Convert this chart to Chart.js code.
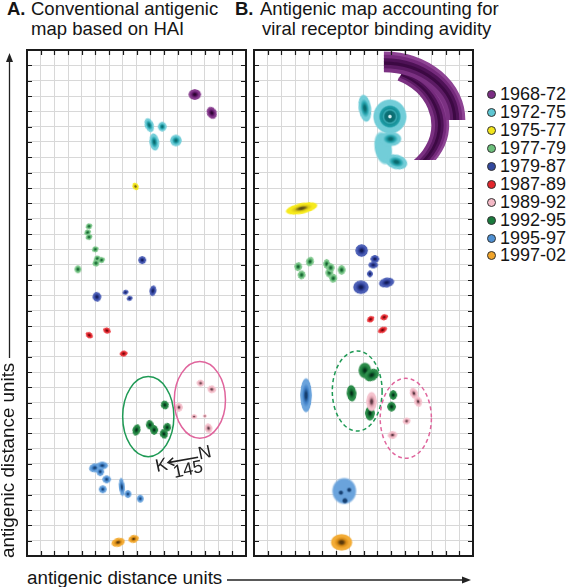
<!DOCTYPE html>
<html>
<head>
<meta charset="utf-8">
<script src="https://cdn.jsdelivr.net/npm/chart.js@4.4.1/dist/chart.umd.min.js"></script>
<style>
  body { margin: 0; background: #fff; font-family: 'Liberation Sans', Arial, sans-serif; color: #151515; }
  #page { position: relative; width: 566px; height: 587px; overflow: hidden; }
  .abs { position: absolute; white-space: nowrap; }
  .ttl { font-size: 18.5px; line-height: 20px; }
  .ax { font-size: 18.8px; line-height: 20px; }
  .lg { display: flex; align-items: center; height: 17.9px; font-size: 18px; }
  .lg i { display: inline-block; width: 7px; height: 7px; border-radius: 50%; border: 1px solid #333; margin-right: 4px; }
</style>
</head>
<body>
<div id="page">
  <div class="abs ttl" style="left:7px;top:-1px;font-weight:bold">A.</div>
  <div class="abs ttl" style="left:31px;top:-1px">Conventional antigenic<br>map based on HAI</div>
  <div class="abs ttl" style="left:235px;top:-1px;font-weight:bold">B.</div>
  <div class="abs ttl" style="left:260px;top:-1px">Antigenic map accounting for<br><span style="margin-left:2px">viral receptor binding avidity</span></div>

  <canvas id="chartA" class="abs" width="239" height="526" style="left:17px;top:40px"></canvas>
  <canvas id="chartB" class="abs" width="239" height="526" style="left:244px;top:40px"></canvas>

  <div id="legend" class="abs" style="left:487px;top:86px"></div>

  <div class="abs ax" style="left:27px;top:567.5px">antigenic distance units</div>
  <div class="abs ax" style="left:-2px;top:558px;transform-origin:0 0;transform:rotate(-90deg)">antigenic distance units</div>
  <svg class="abs" style="left:0;top:0" width="566" height="587">
    <line x1="227" y1="580" x2="466" y2="580" stroke="#222" stroke-width="1.3"/>
    <polygon points="471,580 462,576.5 462,583.5" fill="#222"/>
    <line x1="9.5" y1="358" x2="9.5" y2="58" stroke="#222" stroke-width="1.3"/>
    <polygon points="9.5,53 6,62 13,62" fill="#222"/>
  </svg>
</div>

<script>
// periods and their colours
var periods = ['1968-72', '1972-75', '1975-77', '1977-79', '1979-87', '1987-89', '1989-92', '1992-95', '1995-97', '1997-02'];
var legendFill = ['#7b2d83', '#5ec6d2', '#f2e51c', '#6cbf7b', '#33489e', '#e3262d', '#f4b9c6', '#1a7a3c', '#4f90d2', '#f0a42a'];
var tone = [
  ['#873c8e', '#62196b', '#2c0531'],
  ['#72cdd8', '#25a4ae', '#0a6a6f'],
  ['#f6ea1c', '#d9c615', '#5b4e17'],
  ['#80c88d', '#3f9c58', '#155a2d'],
  ['#4c5fb6', '#2e3e98', '#121c56'],
  ['#ec3c42', '#cc151d', '#5e050a'],
  ['#f5c3ce', '#dc9eac', '#5c3943'],
  ['#2c8c4a', '#147034', '#05301a'],
  ['#6aa3dc', '#3f7fc6', '#163f70'],
  ['#f3ac36', '#d98b15', '#5a3a0c']
];

// map extent (antigenic units)
var xMax = 16, yMax = 33;

// panel A: strain positions [x, y]
var A_6872 = [[12.26, 30.1], [13.5, 28.9]];
var A_7275 = [[8.93, 28.1], [9.3, 27.0], [9.88, 28.0], [10.88, 27.1]];
var A_7577 = [[7.93, 24.1]];
var A_7779 = [[4.53, 21.5], [4.43, 21.1], [4.53, 20.8], [4.99, 20.0], [5.13, 19.4], [5.45, 19.3], [5.04, 19.1], [3.72, 18.7]];
var A_7987 = [[8.42, 19.3], [5.11, 16.9], [7.2, 17.2], [7.5, 16.8], [9.2, 17.3]];
var A_8789 = [[4.55, 14.4], [5.84, 14.7], [7.06, 13.2]];
var A_8992 = [[12.68, 11.27], [13.5, 10.87], [11.1, 9.7], [12.21, 9.09], [12.99, 9.13], [13.26, 8.33]];
var A_9295 = [[10.07, 9.85], [8.0, 8.22], [8.98, 8.55], [9.29, 8.22], [10.0, 7.96], [10.24, 8.39]];
var A_9597 = [[4.95, 5.75], [5.5, 5.9], [5.35, 5.5], [5.82, 5.0], [5.53, 4.35], [6.93, 4.5], [7.37, 4.04], [8.27, 3.74]];
var A_9702 = [[6.66, 0.89], [7.79, 1.11]];

// panel A: uncertainty spread [width, height (units), tilt deg, kind]
var A_6872_s = [[0.95, 0.72, 0, 0], [0.75, 0.85, -25, 0]];
var A_7275_s = [[0.65, 1.0, -20, 0], [0.75, 1.15, -8, 0], [0.65, 0.65, 0, 0], [0.9, 0.8, 0, 0]];
var A_7577_s = [[0.42, 0.5, -30, 0]];
var A_7779_s = [[0.5, 0.42, -25, 0], [0.5, 0.42, -25, 0], [0.5, 0.42, -25, 0], [0.5, 0.42, -25, 0], [0.5, 0.42, -25, 0], [0.5, 0.42, -25, 0], [0.5, 0.45, -25, 0], [0.5, 0.55, 0, 0]];
var A_7987_s = [[0.6, 0.52, 0, 0], [0.65, 0.65, -10, 0], [0.45, 0.32, -20, 0], [0.45, 0.32, -20, 0], [0.5, 0.72, 10, 0]];
var A_8789_s = [[0.6, 0.42, 35, 0], [0.6, 0.42, 20, 0], [0.62, 0.4, -10, 0]];
var A_8992_s = [[0.6, 0.45, 10, 0], [0.65, 0.5, 15, 0], [0.55, 0.6, 0, 0], [0.45, 0.35, 0, 0], [0.3, 0.25, 0, 0], [0.6, 0.65, -10, 0]];
var A_9295_s = [[0.62, 0.58, -20, 0], [0.55, 0.75, 15, 0], [0.6, 0.65, -10, 0], [0.62, 0.62, 0, 0], [0.6, 0.62, -20, 0], [0.62, 0.6, 10, 0]];
var A_9597_s = [[0.85, 0.6, -15, 0], [0.9, 0.5, 0, 0], [0.6, 0.6, 0, 0], [0.65, 0.55, 0, 0], [0.55, 0.5, 0, 0], [0.42, 1.25, -5, 0], [0.48, 0.5, 0, 0], [0.48, 0.5, 0, 0]];
var A_9702_s = [[1.05, 0.58, -15, 0], [0.78, 0.5, -15, 0]];

// panel B: strain positions [x, y]
var B_6872 = [];
var B_7275 = [[9.44, 26.6], [8.1, 29.2], [9.93, 28.66], [9.98, 27.2], [10.4, 25.7]];
var B_7577 = [[3.48, 22.67]];
var B_7779 = [[3.23, 18.87], [3.48, 18.33], [4.09, 19.2], [5.31, 19.05], [5.5, 18.48], [5.79, 18.11], [6.4, 18.66], [5.6, 18.8]];
var B_7987 = [[7.86, 19.92], [8.83, 19.37], [8.71, 18.98], [8.47, 18.4], [9.69, 17.83], [7.81, 17.53]];
var B_8789 = [[8.52, 15.44], [9.51, 15.57], [9.39, 14.74]];
var B_8992 = [[8.59, 10.07], [11.68, 10.61], [11.99, 10.07], [11.15, 8.8], [10.12, 7.89]];
var B_9295 = [[8.1, 12.1], [8.6, 11.8], [7.13, 10.61], [8.47, 9.31], [10.17, 10.5], [10.05, 9.74]];
var B_9597 = [[3.8, 10.48], [6.59, 4.24], [6.35, 4.13], [6.64, 3.61], [6.95, 4.31]];
var B_9702 = [[6.4, 0.89]];

var B_6872_s = [];
var B_7275_s = [[1.3, 2.2, -10, 1], [0.95, 1.85, -8, 0], [2.45, 2.3, 0, 2], [1.6, 0.95, 0, 0], [1.65, 1.0, 15, 0]];
var B_7577_s = [[2.4, 0.72, -12, 0]];
var B_7779_s = [[0.55, 0.6, 10, 0], [0.55, 0.6, 10, 0], [0.55, 0.62, 20, 0], [0.5, 0.62, 0, 0], [0.55, 0.62, 0, 0], [0.55, 0.6, 10, 0], [0.62, 0.62, 0, 0], [0.55, 0.6, 0, 0]];
var B_7987_s = [[0.95, 0.85, 0, 0], [0.65, 0.55, 0, 0], [0.75, 0.45, 0, 0], [0.45, 0.45, 0, 0], [1.15, 0.65, -12, 0], [1.15, 0.9, 0, 0]];
var B_8789_s = [[0.62, 0.42, -35, 0], [0.6, 0.4, -20, 0], [0.7, 0.42, -25, 0]];
var B_8992_s = [[0.8, 1.3, 0, 0], [0.55, 0.8, -20, 0], [0.62, 0.72, -15, 0], [0.62, 0.45, -15, 0], [0.72, 0.52, -10, 0]];
var B_9295_s = [[0.95, 1.05, 0, 0], [1.15, 0.8, -30, 0], [0.73, 1.1, -5, 0], [0.73, 0.95, 0, 0], [0.62, 0.62, 0, 0], [0.68, 0.68, 0, 0]];
var B_9597_s = [[0.85, 2.3, 0, 0], [1.8, 1.75, 0, 1], [0.4, 0.35, 0, 3], [0.45, 0.38, 0, 3], [0.4, 0.35, 0, 3]];
var B_9702_s = [[1.6, 1.1, 0, 0]];

// cluster outlines [cx, cy, rx, ry] in units
var ringsA = [[8.86, 9.09, 1.87, 2.61], [12.63, 10.18, 1.87, 2.5]];
var ringsB = [[7.54, 10.76, 1.82, 2.61], [11.09, 8.98, 1.87, 2.61]];
var ringColors = ['#1f9a55', '#e0659d'];

// 1968-72 region in B (off the map): [cx, cy, rxOut, ryOut, rxIn, ryIn, startDeg, endDeg, cutY]
var arcsB = [
  [8.68, 28.11, 5.55, 3.98, 4.3, 3.26, -65, 60, 25.83],
  [9.49, 28.44, 5.91, 4.44, 4.58, 3.13, -90, 0, null]
];

// K145N substitution label in A
var notesA = [['K', 9.83, 5.87], ['N', 12.99, 6.7], ['145', 11.77, 5.61]];
var arrowA = [12.5, 6.44, 10.31, 6.09];

var ptsA = [A_6872, A_7275, A_7577, A_7779, A_7987, A_8789, A_8992, A_9295, A_9597, A_9702];
var shpA = [A_6872_s, A_7275_s, A_7577_s, A_7779_s, A_7987_s, A_8789_s, A_8992_s, A_9295_s, A_9597_s, A_9702_s];
var ptsB = [B_6872, B_7275, B_7577, B_7779, B_7987, B_8789, B_8992, B_9295, B_9597, B_9702];
var shpB = [B_6872_s, B_7275_s, B_7577_s, B_7779_s, B_7987_s, B_8789_s, B_8992_s, B_9295_s, B_9597_s, B_9702_s];

function rgba(hex, a) {
  var n = parseInt(hex.slice(1), 16);
  return 'rgba(' + (n >> 16) + ',' + ((n >> 8) & 255) + ',' + (n & 255) + ',' + a + ')';
}

var blobCache = {};
function blobImage(ci, w, h, kind) {
  var key = ci + '_' + w + '_' + h + '_' + kind;
  if (blobCache[key]) return blobCache[key];
  var c = tone[ci];
  var cv = document.createElement('canvas');
  cv.width = w + 2;
  cv.height = h + 2;
  var g = cv.getContext('2d');
  g.translate(cv.width / 2, cv.height / 2);
  g.scale(1, h / w);
  var r = w / 2;
  var gr = g.createRadialGradient(0, 0, 0, 0, 0, r);
  var stops;
  if (kind == 1) {
    stops = [[0, c[0]], [0.85, c[0]], [1, rgba(c[0], 0.25)]];
  } else if (kind == 2) {
    stops = [[0, '#d6f2f4'], [0.07, '#d6f2f4'], [0.13, '#0b6a6f'], [0.3, '#0d7479'], [0.38, '#3aaab3'], [0.46, '#178f97'],
             [0.58, '#1f9ea8'], [0.66, c[0]], [0.92, c[0]], [1, rgba(c[0], 0.25)]];
  } else if (kind == 3) {
    stops = [[0, c[2]], [0.5, c[2]], [1, rgba(c[2], 0.2)]];
  } else {
    stops = [[0, c[2]], [0.15, c[2]], [0.42, c[1]], [0.68, c[0]], [0.9, c[0]], [1, rgba(c[0], 0.25)]];
  }
  stops.forEach(function(s) { gr.addColorStop(s[0], s[1]); });
  g.fillStyle = gr;
  g.beginPath();
  g.arc(0, 0, r, 0, Math.PI * 2);
  g.fill();
  blobCache[key] = cv;
  return cv;
}

function makeDatasets(pts, shp) {
  return periods.map(function(p, i) {
    return {
      label: p,
      data: pts[i].map(function(d) { return {x: d[0], y: d[1]}; }),
      pointRadius: 3,
      pointStyle: function(ctx) {
        var s = shp[i][ctx.dataIndex];
        var sx = ctx.chart.scales.x, sy = ctx.chart.scales.y;
        if (!s || !sx || !sy || !(sx.width > 0) || !(sy.height > 0)) return 'circle';
        var ux = sx.width / xMax;
        var uy = sy.height / yMax;
        return blobImage(i, Math.max(2, Math.round(s[0] * ux)), Math.max(2, Math.round(s[1] * uy)), s[3]);
      },
      pointRotation: function(ctx) {
        var s = shp[i][ctx.dataIndex];
        return s ? s[2] : 0;
      }
    };
  });
}

var extras = {
  id: 'extras',
  beforeDatasetsDraw: function(chart, args, opts) {
    var ctx = chart.ctx, a = chart.chartArea, xs = chart.scales.x, ys = chart.scales.y;
    var ux = xs.width / xMax, uy = ys.height / yMax;
    (opts.arcs || []).forEach(function(arc) {
      var px = xs.getPixelForValue(arc[0]), py = ys.getPixelForValue(arc[1]);
      var rxo = arc[2] * ux, ryo = arc[3] * uy, rxi = arc[4] * ux, ryi = arc[5] * uy;
      var cols = ['#8e4494', '#752a7c', '#4e1256', '#3c0943', '#5c1b64', '#7b3182'];
      var n = cols.length;
      var lw = Math.max(rxo - rxi, ryo - ryi) / n + 0.8;
      ctx.save();
      ctx.beginPath();
      var bottom = arc[8] == null ? a.bottom : ys.getPixelForValue(arc[8]);
      ctx.rect(a.left, a.top, a.right - a.left, bottom - a.top);
      ctx.clip();
      cols.forEach(function(col, k) {
        var f = (k + 0.5) / n;
        ctx.beginPath();
        ctx.ellipse(px, py, rxo - (rxo - rxi) * f, ryo - (ryo - ryi) * f, 0, arc[6] * Math.PI / 180, arc[7] * Math.PI / 180);
        ctx.strokeStyle = col;
        ctx.lineWidth = lw;
        ctx.stroke();
      });
      ctx.restore();
    });
  },
  afterDatasetsDraw: function(chart, args, opts) {
    var ctx = chart.ctx, xs = chart.scales.x, ys = chart.scales.y;
    var ux = xs.width / xMax, uy = ys.height / yMax;
    ctx.save();
    (opts.rings || []).forEach(function(r, k) {
      ctx.beginPath();
      ctx.ellipse(xs.getPixelForValue(r[0]), ys.getPixelForValue(r[1]), r[2] * ux, r[3] * uy, 0, 0, Math.PI * 2);
      ctx.strokeStyle = ringColors[k];
      ctx.lineWidth = 1.5;
      ctx.setLineDash(opts.dashed ? [4, 3] : []);
      ctx.stroke();
    });
    ctx.setLineDash([]);
    if (opts.notes) {
      var rot = -12 * Math.PI / 180;
      ctx.fillStyle = '#222';
      ctx.font = "18px 'Liberation Sans', Arial, sans-serif";
      ctx.textAlign = 'center';
      ctx.textBaseline = 'middle';
      opts.notes.forEach(function(n) {
        ctx.save();
        ctx.translate(xs.getPixelForValue(n[1]), ys.getPixelForValue(n[2]));
        ctx.rotate(rot);
        ctx.fillText(n[0], 0, 0);
        ctx.restore();
      });
      var ar = opts.arrow;
      var x1 = xs.getPixelForValue(ar[0]), y1 = ys.getPixelForValue(ar[1]);
      var x2 = xs.getPixelForValue(ar[2]), y2 = ys.getPixelForValue(ar[3]);
      var ang = Math.atan2(y2 - y1, x2 - x1);
      ctx.strokeStyle = '#222';
      ctx.lineWidth = 1.6;
      ctx.beginPath();
      ctx.moveTo(x1, y1);
      ctx.lineTo(x2, y2);
      ctx.moveTo(x2 - 7 * Math.cos(ang - 0.6), y2 - 7 * Math.sin(ang - 0.6));
      ctx.lineTo(x2, y2);
      ctx.lineTo(x2 - 7 * Math.cos(ang + 0.6), y2 - 7 * Math.sin(ang + 0.6));
      ctx.stroke();
    }
    ctx.restore();
  },
  afterDraw: function(chart) {
    var ctx = chart.ctx, a = chart.chartArea, xs = chart.scales.x, ys = chart.scales.y;
    ctx.save();
    ctx.strokeStyle = '#1a1a1a';
    ctx.lineWidth = 1.2;
    ctx.beginPath();
    for (var v = 1; v < xMax; v++) {
      var p = Math.round(xs.getPixelForValue(v)) + 0.5;
      ctx.moveTo(p, a.top); ctx.lineTo(p, a.top + 5);
      ctx.moveTo(p, a.bottom); ctx.lineTo(p, a.bottom - 5);
    }
    for (var w = 1; w < yMax; w++) {
      var q = Math.round(ys.getPixelForValue(w)) + 0.5;
      ctx.moveTo(a.left, q); ctx.lineTo(a.left + 5, q);
      ctx.moveTo(a.right, q); ctx.lineTo(a.right - 5, q);
    }
    ctx.stroke();
    ctx.lineWidth = 2;
    ctx.strokeRect(a.left, a.top, a.right - a.left, a.bottom - a.top);
    ctx.restore();
  }
};

function makeChart(id, pts, shp, extraOpts) {
  return new Chart(document.getElementById(id), {
    type: 'scatter',
    data: { datasets: makeDatasets(pts, shp) },
    plugins: [extras],
    options: {
      responsive: false,
      animation: false,
      events: [],
      layout: { padding: 10 },
      plugins: { legend: { display: false }, tooltip: { enabled: false }, extras: extraOpts },
      scales: {
        x: { type: 'linear', min: 0, max: xMax,
             ticks: { display: false, stepSize: 1 },
             grid: { color: '#d8d8d8', drawTicks: false }, border: { display: false } },
        y: { type: 'linear', min: 0, max: yMax,
             ticks: { display: false, stepSize: 1 },
             grid: { color: '#d8d8d8', drawTicks: false }, border: { display: false } }
      }
    }
  });
}

makeChart('chartA', ptsA, shpA, { rings: ringsA, dashed: false, notes: notesA, arrow: arrowA });
makeChart('chartB', ptsB, shpB, { rings: ringsB, dashed: true, arcs: arcsB });

// legend
var lg = document.getElementById('legend');
periods.forEach(function(p, i) {
  var row = document.createElement('div');
  row.className = 'lg';
  row.innerHTML = '<i style="background:' + legendFill[i] + '"></i>' + p;
  lg.appendChild(row);
});
</script>
</body>
</html>
